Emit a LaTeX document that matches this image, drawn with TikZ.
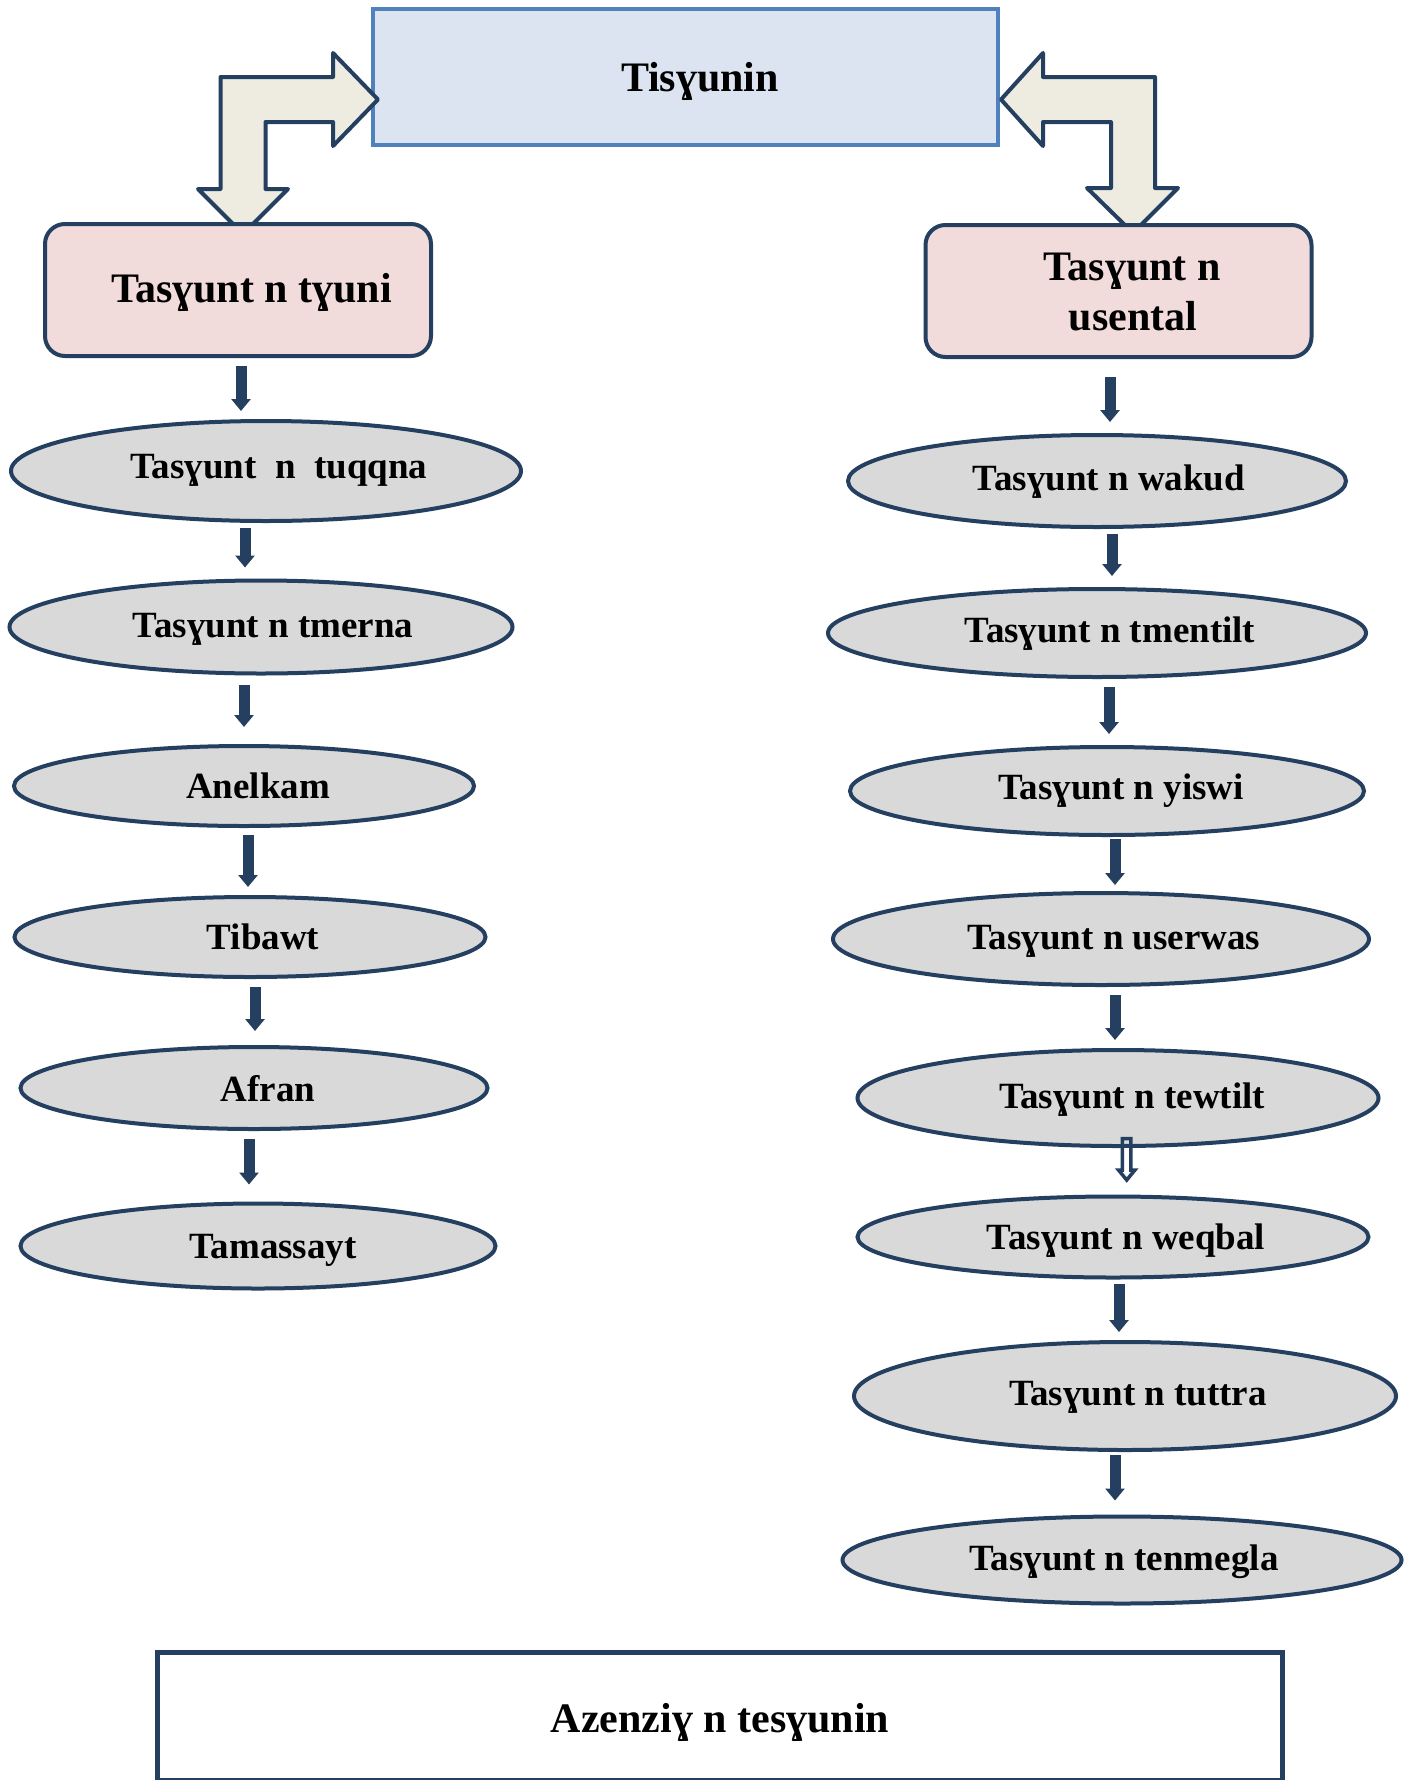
\documentclass[tikz,border=0pt]{standalone}
\usepackage{fontspec}
\setmainfont{Liberation Serif}
\usetikzlibrary{shapes.geometric,arrows.meta}
\definecolor{navy}{HTML}{243F60}
\definecolor{topfill}{HTML}{DCE3F1}
\definecolor{topline}{HTML}{4F81BD}
\definecolor{pinkfill}{HTML}{F2DCDB}
\definecolor{ellfill}{HTML}{D9D9D9}
\definecolor{bentfill}{HTML}{EEECE1}
\begin{document}
\begin{tikzpicture}[x=1pt,y=-1pt,
 topbox/.style={draw=topline, fill=topfill, line width=4pt, minimum width=625pt, minimum height=136pt, inner sep=0pt},
 pinkbox/.style={draw=navy, fill=pinkfill, line width=4pt, rounded corners=20pt, minimum width=386pt, minimum height=132pt, inner sep=0pt},
 ell/.style={ellipse, draw=navy, fill=ellfill, line width=4pt, inner sep=0pt},
 bigtxt/.style={font=\fontsize{42pt}{49pt}\selectfont\bfseries, anchor=base, inner sep=0pt},
 smalltxt/.style={font=\fontsize{37pt}{44pt}\selectfont\bfseries, anchor=base, inner sep=0pt},
 bent/.style={draw=navy, fill=bentfill, line width=4pt, line join=round},
 conn/.style={draw=navy, line width=11pt, -{Triangle[width=19pt,length=12pt]}},
 hollowconn/.style={draw=navy, line width=3.5pt, line join=miter},
]
\useasboundingbox (0,0) rectangle (1416,1780);
\fill[white] (0,0) rectangle (1416,1780);

% top box
\node[topbox] (top) at (685.5,77) {};
\node[bigtxt] (ttop) at (700,91) {Tisɣunin};

% bent arrows
\draw[bent] (220.5,189) -- (220.5,77) -- (333,77) -- (333,53) -- (378,99.5) -- (333,146) -- (333,122) -- (265.5,122) -- (265.5,189) -- (288,189) -- (243,234) -- (198,189) -- cycle;
\draw[bent] (1155,188) -- (1155,77) -- (1043,77) -- (1043,53) -- (1001,99.5) -- (1043,146) -- (1043,122) -- (1111,122) -- (1111,188) -- (1087,188) -- (1133,233) -- (1178,188) -- cycle;

% pink boxes
\node[pinkbox] (b1) at (238,290) {};
\node[bigtxt] (tb1) at (251.5,302) {Tasɣunt n tɣuni};
\node[pinkbox] (b2) at (1118.5,291) {};
\node[bigtxt] (tb2a) at (1132,280) {Tasɣunt n};
\node[bigtxt] (tb2b) at (1133,330) {usental};

% left ellipses
\node[ell, minimum width=510pt, minimum height=100pt] (e1) at (266,471) {};
\node[ell, minimum width=503pt, minimum height=93pt] (e2) at (261,627) {};
\node[ell, minimum width=460pt, minimum height=80pt] (e3) at (244,786) {};
\node[ell, minimum width=471pt, minimum height=80pt] (e4) at (250,937) {};
\node[ell, minimum width=467pt, minimum height=82pt] (e5) at (254,1088) {};
\node[ell, minimum width=475pt, minimum height=85pt] (e6) at (258,1246) {};
\node[smalltxt] (te1) at (279,478) {Tasɣunt~~n~~tuqqna};
\node[smalltxt] (te2) at (273,637) {Tasɣunt n tmerna};
\node[smalltxt] (te3) at (258,798) {Anelkam};
\node[smalltxt] (te4) at (263,949) {Tibawt};
\node[smalltxt] (te5) at (268,1101) {Afran};
\node[smalltxt] (te6) at (273,1258) {Tamassayt};

% right ellipses
\node[ell, minimum width=498pt, minimum height=92pt] (r1) at (1097,481) {};
\node[ell, minimum width=538pt, minimum height=88pt] (r2) at (1097,633) {};
\node[ell, minimum width=514pt, minimum height=88pt] (r3) at (1107,791) {};
\node[ell, minimum width=536pt, minimum height=92pt] (r4) at (1101,939) {};
\node[ell, minimum width=521pt, minimum height=96pt] (r5) at (1118,1098) {};
\node[ell, minimum width=511pt, minimum height=81pt] (r6) at (1113,1237) {};
\node[ell, minimum width=542pt, minimum height=108pt] (r7) at (1125,1396) {};
\node[ell, minimum width=559pt, minimum height=87pt] (r8) at (1122,1560) {};
\node[smalltxt] (tr1) at (1109,490) {Tasɣunt n wakud};
\node[smalltxt] (tr2) at (1110,642) {Tasɣunt n tmentilt};
\node[smalltxt] (tr3) at (1121,799) {Tasɣunt n yiswi};
\node[smalltxt] (tr4) at (1114,949) {Tasɣunt n userwas};
\node[smalltxt] (tr5) at (1132,1108) {Tasɣunt n tewtilt};
\node[smalltxt] (tr6) at (1126,1249) {Tasɣunt n weqbal};
\node[smalltxt] (tr7) at (1138,1405) {Tasɣunt n tuttra};
\node[smalltxt] (tr8) at (1124,1570) {Tasɣunt n tenmegla};

% bottom box (cut off by the lower edge)
\node[draw=navy, line width=5pt, minimum width=1125pt, minimum height=128pt, inner sep=0pt] (bot) at (719.75,1716.75) {};
\node[bigtxt] (tbot) at (720,1732) {Azenziɣ n tesɣunin};

% left connectors
\draw[conn, shorten <=8pt, shorten >=8pt] (b1.south -| 241,0) -- (e1.north -| 241,0);
\draw[conn, shorten <=5pt, shorten >=11pt] (e1.south -| 245,0) -- (e2.north -| 245,0);
\draw[conn, shorten <=9pt, shorten >=17pt] (e2.south -| 244,0) -- (e3.north -| 244,0);
\draw[conn, shorten <=7pt, shorten >=8pt] (e3.south -| 248,0) -- (e4.north -| 248,0);
\draw[conn, shorten <=8pt, shorten >=14pt] (e4.south -| 255,0) -- (e5.north -| 255,0);
\draw[conn, shorten <=8pt, shorten >=17pt] (e5.south -| 249,0) -- (e6.north -| 249,0);

% right connectors
\draw[conn, shorten <=18pt, shorten >=11pt] (b2.south -| 1110,0) -- (r1.north -| 1110,0);
\draw[conn, shorten <=5pt, shorten >=11pt] (r1.south -| 1112,0) -- (r2.north -| 1112,0);
\draw[conn, shorten <=8pt, shorten >=11pt] (r2.south -| 1109,0) -- (r3.north -| 1109,0);
\draw[conn, shorten <=2pt, shorten >=6pt] (r3.south -| 1115,0) -- (r4.north -| 1115,0);
\draw[conn, shorten <=8pt, shorten >=8pt] (r4.south -| 1115,0) -- (r5.north -| 1115,0);
% hollow (outlined) arrow from r5 to r6
\coordinate (h) at (r5.south -| 1126.7,0);
\draw[hollowconn] ([shift={(-4.25,-9.5)}]h) -- ([shift={(4.25,-9.5)}]h) -- ([shift={(4.25,22)}]h) -- ([shift={(8.2,22)}]h) -- ([shift={(0,32)}]h) -- ([shift={(-8.2,22)}]h) -- ([shift={(-4.25,22)}]h) -- cycle;
\draw[conn, shorten <=4pt, shorten >=8pt] (r6.south -| 1119,0) -- (r7.north -| 1119,0);
\draw[conn, shorten <=3pt, shorten >=14pt] (r7.south -| 1115,0) -- (r8.north -| 1115,0);
\end{tikzpicture}
\end{document}
